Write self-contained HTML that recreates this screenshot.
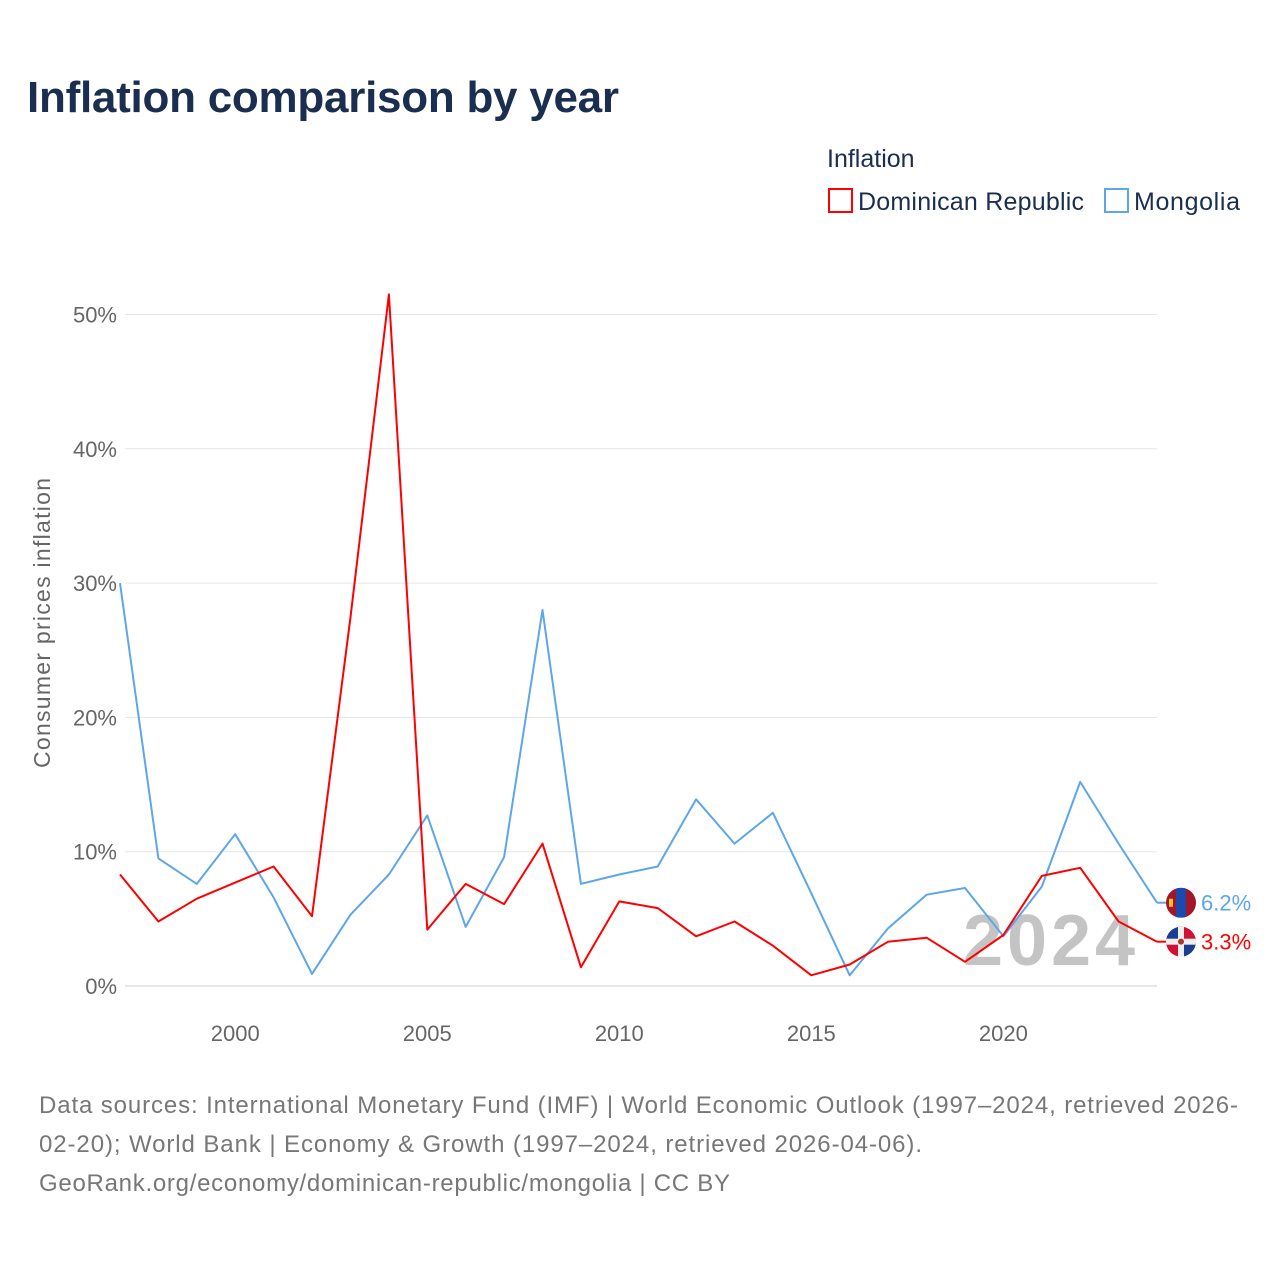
<!DOCTYPE html>
<html><head><meta charset="utf-8">
<style>
body{margin:0;background:#fff;font-family:"Liberation Sans",sans-serif;}
#wrap{position:relative;width:1280px;height:1280px;overflow:hidden;}
</style></head>
<body>
<div id="wrap">
<svg id="chart" width="1280" height="1280"></svg>
</div>
<script>
const years=[1997,1998,1999,2000,2001,2002,2003,2004,2005,2006,2007,2008,2009,2010,2011,2012,2013,2014,2015,2016,2017,2018,2019,2020,2021,2022,2023,2024];
const drValues=[8.3,4.8,6.5,7.7,8.9,5.2,27.4,51.5,4.2,7.6,6.1,10.6,1.4,6.3,5.8,3.7,4.8,3.0,0.8,1.6,3.3,3.6,1.8,3.8,8.2,8.8,4.8,3.3];
const mnValues=[30,9.5,7.6,11.3,6.6,0.9,5.3,8.3,12.7,4.4,9.6,28,7.6,8.3,8.9,13.9,10.6,12.9,6.9,0.8,4.3,6.8,7.3,3.7,7.4,15.2,10.6,6.2];
const yTicks=[0,10,20,30,40,50];
const xTicks=[2000,2005,2010,2015,2020];
const NS="http://www.w3.org/2000/svg";
const svg=document.getElementById('chart');
const x=y=>120+(y-1997)*(1157-120)/27;
const yv=v=>986-v*13.43;
function mk(t,a,txt){const e=document.createElementNS(NS,t);for(const k in a)e.setAttribute(k,a[k]);if(txt!==undefined)e.textContent=txt;svg.appendChild(e);return e;}
let e;
e=mk('text',{x:27,y:112,'font-size':44,'font-weight':'bold',fill:'#1a2e4f',textLength:592},'Inflation comparison by year');


e=mk('text',{x:827,y:167,'font-size':25,fill:'#1a2e4f'},'Inflation');


e=mk('rect',{x:829,y:189,width:23,height:23,fill:'none',stroke:'#f00','stroke-width':2});


e=mk('text',{x:858,y:210,'font-size':25,fill:'#1a2e4f',textLength:226},'Dominican Republic');


e=mk('rect',{x:1105,y:189,width:23,height:23,fill:'none',stroke:'#5ea6ea','stroke-width':2});


e=mk('text',{x:1134,y:210,'font-size':25,fill:'#1a2e4f',textLength:106},'Mongolia');


yTicks.forEach(t=>{
 e=mk('line',{x1:125,x2:1157,y1:yv(t),y2:yv(t),stroke:t===0?'#ccc':'#e6e6e6','stroke-width':1});
 
 
 e=mk('text',{x:117,y:yv(t)+8,'font-size':22,fill:'#666','text-anchor':'end'},t+'%');
 
 
});
xTicks.forEach(t=>{
 e=mk('text',{x:x(t),y:1041,'font-size':22,fill:'#666','text-anchor':'middle'},String(t));
 
 
});
e=mk('text',{x:0,y:0,'font-size':23,fill:'#666','text-anchor':'middle',textLength:290,transform:'translate(50,623) rotate(-90)'},'Consumer prices inflation');


e=mk('text',{x:1135,y:965,'font-size':72,'font-weight':'bold',fill:'#c4c4c4','text-anchor':'end',textLength:172},'2024');


function line(vals,col,name){
 const d=vals.map((v,i)=>(i?'L':'M')+x(years[i]).toFixed(1)+','+yv(v).toFixed(1)).join(' ');
 const p=mk('path',{d:d,fill:'none',stroke:col,'stroke-width':2,'stroke-linejoin':'round'});
 
 
}
line(mnValues,'#5ea6ea','series-mongolia');
line(drValues,'#f00','series-dominican-republic');
function endLabel(v,col,name,flag){
 const ly=yv(v);
 const l=mk('line',{x1:1157,x2:1166,y1:ly,y2:ly,stroke:col,'stroke-width':2});
 
 
 const g=document.createElementNS(NS,'g');svg.appendChild(g);
 
 
 const cx=1181;
 if(flag==='mn'){
  g.innerHTML=`<clipPath id="cm"><circle cx="${cx}" cy="${ly}" r="15"/></clipPath><g clip-path="url(#cm)"><rect x="${cx-15}" y="${ly-15}" width="30" height="30" fill="#a3162a"/><rect x="${cx-5}" y="${ly-15}" width="10" height="30" fill="#1a4ab0"/><rect x="${cx-12}" y="${ly-4}" width="4" height="8" fill="#f4c430"/></g>`;
 }else{
  g.innerHTML=`<clipPath id="cd"><circle cx="${cx}" cy="${ly}" r="15"/></clipPath><g clip-path="url(#cd)"><rect x="${cx-15}" y="${ly-15}" width="15" height="15" fill="#1b3d8f"/><rect x="${cx}" y="${ly-15}" width="15" height="15" fill="#d21034"/><rect x="${cx-15}" y="${ly}" width="15" height="15" fill="#d21034"/><rect x="${cx}" y="${ly}" width="15" height="15" fill="#1b3d8f"/><rect x="${cx-15}" y="${ly-3}" width="30" height="6" fill="#eee"/><rect x="${cx-3}" y="${ly-15}" width="6" height="30" fill="#eee"/><circle cx="${cx}" cy="${ly}" r="3" fill="#a33"/></g>`;
 }
 const t=mk('text',{x:1201,y:ly+8,'font-size':22,fill:col},v+'%');
 
 
}
endLabel(mnValues[mnValues.length-1],'#5ea6ea','mongolia-end','mn');
endLabel(drValues[drValues.length-1],'#f00','dominican-republic-end','dr');
const src=['Data sources: International Monetary Fund (IMF) | World Economic Outlook (1997–2024, retrieved 2026-','02-20); World Bank | Economy & Growth (1997–2024, retrieved 2026-04-06).','GeoRank.org/economy/dominican-republic/mongolia | CC BY'];
const srcLens=[1199,883,691];
src.forEach((s,i)=>{
 e=mk('text',{x:39,y:1113+i*39,'font-size':24,fill:'#777',textLength:srcLens[i]},s);
 
 
});
</script>
</body></html>
